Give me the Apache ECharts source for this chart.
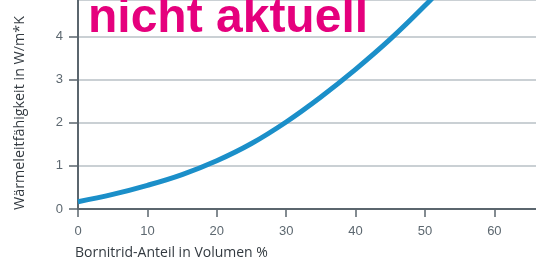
<!DOCTYPE html>
<html>
<head>
<meta charset="utf-8">
<script src="https://cdn.jsdelivr.net/npm/echarts@6/dist/echarts.min.js"></script>
<style>
    html, body { margin: 0; padding: 0; background: #fff; }
    #main { width: 536px; height: 266px; }
</style>
</head>
<body>
<div id="main"></div>
<script>
    // Bornitrid-Anteil (Vol %) -> Wärmeleitfähigkeit (W/m*K)
    var anteil = [0, 5, 10, 15, 20, 25, 30, 35, 40, 45, 50, 55];
    var leitfaehigkeit = [0.17, 0.34, 0.55, 0.8, 1.12, 1.52, 2.02, 2.6, 3.24, 3.94, 4.72, 5.56];
    var xTicks = [0, 10, 20, 30, 40, 50, 60];
    var yTicks = [0, 1, 2, 3, 4];

    var axisColor = '#5b666e';
    var labelColor = '#5d6870';
    var fontName = '"Liberation Sans", Arial, sans-serif';
    var nameFont = '"Open Sans", "Liberation Sans", sans-serif';

    var points = [];
    for (var i = 0; i < anteil.length; i++) {
        points.push([anteil[i], leitfaehigkeit[i]]);
    }

    var myChart = echarts.init(document.getElementById('main'));
    myChart.setOption({
        animation: false,
        grid: {
            left: 78,
            right: 0,
            top: -2,
            bottom: 57
        },
        xAxis: {
            type: 'value',
            min: 0,
            max: 66,
            interval: 10,
            axisLine: { show: true, lineStyle: { color: axisColor, width: 2 } },
            axisTick: { show: true, length: 8, lineStyle: { color: axisColor, width: 1.5 } },
            axisLabel: {
                color: labelColor,
                fontSize: 13,
                fontFamily: fontName,
                margin: 16,
                showMaxLabel: false,
                formatter: function (v) { return xTicks.indexOf(v) >= 0 ? v : ''; }
            },
            splitLine: { show: false }
        },
        yAxis: {
            type: 'value',
            min: 0,
            max: 4.85,
            interval: 1,
            axisLine: { show: true, lineStyle: { color: axisColor, width: 2 } },
            axisTick: { show: true, length: 9, lineStyle: { color: axisColor, width: 1.5 } },
            axisLabel: {
                color: labelColor,
                fontSize: 13,
                fontFamily: fontName,
                margin: 15,
                showMaxLabel: false,
                formatter: function (v) { return yTicks.indexOf(v) >= 0 ? v : ''; }
            },
            splitLine: { show: true, lineStyle: { color: '#b9c1c6', width: 1.5 } }
        },
        graphic: [
            {
                type: 'text',
                left: 75,
                top: 246,
                style: {
                    text: 'Bornitrid-Anteil in Volumen %',
                    fill: '#333a40',
                    font: '14px ' + nameFont
                }
            },
            {
                type: 'text',
                x: 20,
                y: 113,
                rotation: Math.PI / 2,
                style: {
                    text: 'Wärmeleitfähigkeit in W/m*K',
                    fill: '#333a40',
                    font: '14.3px ' + nameFont,
                    align: 'center',
                    verticalAlign: 'middle'
                }
            },
            {
                type: 'text',
                x: 88,
                y: 19,
                z: 100,
                style: {
                    text: 'nicht aktuell',
                    fill: '#e5007d',
                    font: 'bold 48px ' + fontName,
                    align: 'left',
                    verticalAlign: 'middle'
                }
            }
        ],
        series: [
            {
                type: 'line',
                data: points,
                smooth: 0.4,
                symbol: 'none',
                clip: true,
                lineStyle: { color: '#1b8fc9', width: 5 }
            }
        ]
    });
</script>
</body>
</html>
